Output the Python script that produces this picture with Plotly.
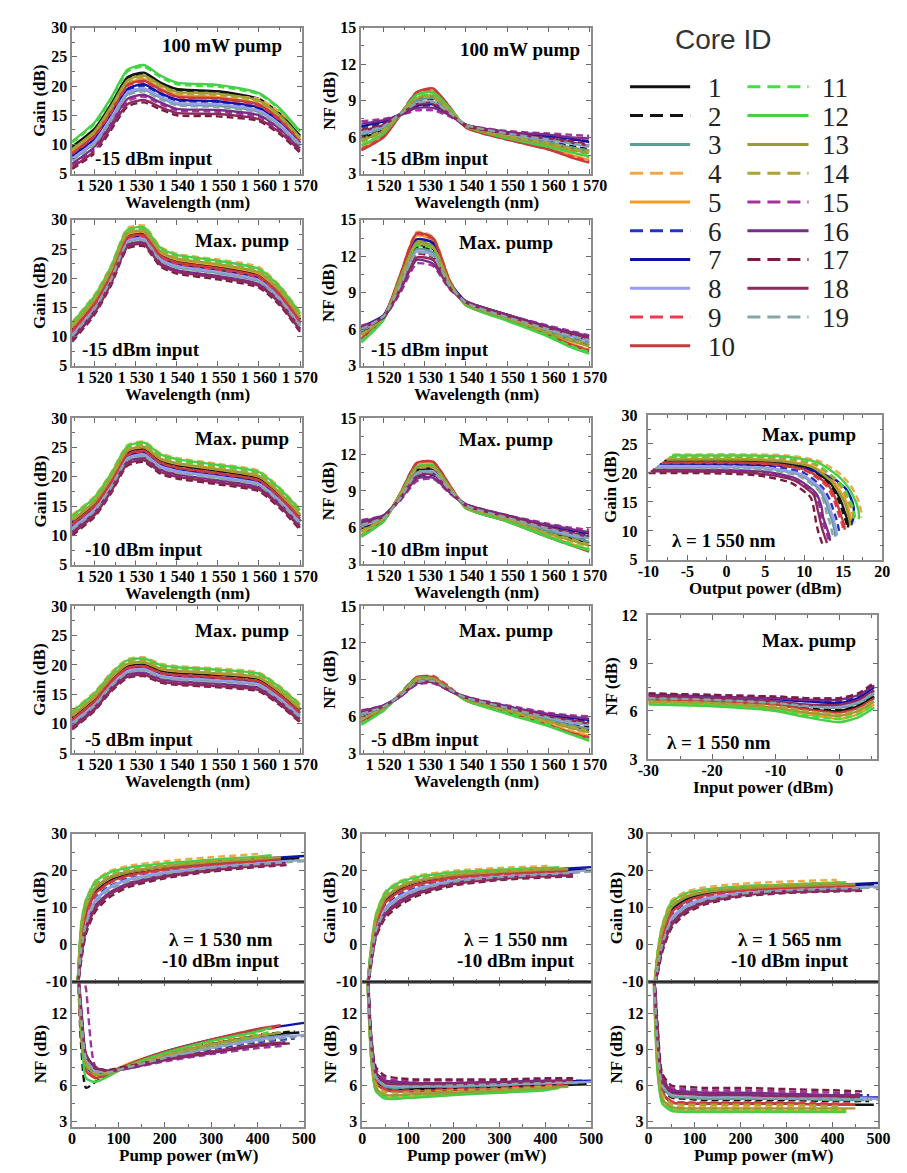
import plotly.graph_objects as go

W, H = 907, 1173
SERIF = "Liberation Serif"
SANS = "Liberation Sans"
FRAME = "#8c8c8c"
TICKC = "#6a6a6a"

CORES = list(range(1, 20))
COLORS = ['#111111', '#111111', '#5e9c98', '#f0a848', '#f39c2c', '#2436b8', '#0c14a6',
          '#9a9cf2', '#ee3a4c', '#c43c3c', '#3ee23e', '#46cf46', '#9a9a38', '#a8a436',
          '#a2329c', '#7a2c88', '#7a1c40', '#8c2a5c', '#88a6a6']
DASHED = [False, True, False, True, False, True, False, False, True, False,
          True, False, False, True, True, False, True, False, True]

# ---------------- wavelength sweeps ----------------
WL = [1514.5, 1520, 1524, 1528, 1532, 1536, 1540, 1550, 1560, 1565, 1570]
WL_TICKS = [1520, 1530, 1540, 1550, 1560, 1570]
WL_TEXT = ['1 520', '1 530', '1 540', '1 550', '1 560', '1 570']

# Gain, 100 mW pump, -15 dBm input (rows = core 1..19)
G_100_M15 = [
    [9.6, 12.7, 16.9, 21.5, 22.3, 20.6, 19.5, 19.1, 17.8, 15.3, 11.5],
    [9.3, 12.5, 16.6, 21.2, 22.0, 20.3, 19.2, 18.8, 17.6, 15.1, 11.3],
    [7.4, 10.3, 14.4, 18.6, 19.4, 18.0, 16.9, 16.6, 15.6, 13.3, 9.8],
    [8.9, 11.9, 16.1, 20.6, 21.4, 19.8, 18.6, 18.3, 17.8, 15.6, 12.4],
    [8.7, 11.8, 15.9, 20.4, 21.2, 19.6, 18.5, 18.1, 17.0, 14.5, 10.8],
    [7.9, 10.8, 14.9, 19.3, 20.0, 18.6, 17.5, 17.2, 16.1, 13.7, 10.2],
    [8.1, 11.0, 15.1, 19.5, 20.3, 18.8, 17.7, 17.4, 16.3, 13.9, 10.3],
    [7.6, 10.5, 14.6, 18.9, 19.6, 18.2, 17.1, 16.9, 15.8, 13.5, 10.0],
    [8.4, 11.4, 15.5, 20.0, 20.7, 19.2, 18.1, 17.8, 16.6, 14.2, 10.6],
    [8.5, 11.6, 15.7, 20.2, 20.9, 19.4, 18.2, 17.9, 16.8, 14.4, 10.7],
    [10.3, 13.5, 17.7, 22.5, 23.3, 21.5, 20.3, 19.9, 18.6, 16.0, 12.0],
    [10.5, 13.8, 18.0, 22.8, 23.6, 21.8, 20.6, 20.2, 18.8, 16.2, 12.2],
    [9.2, 12.3, 16.5, 21.0, 21.8, 20.2, 19.0, 18.7, 17.5, 15.0, 11.2],
    [9.0, 12.1, 16.2, 20.8, 21.6, 19.9, 18.8, 18.5, 17.3, 14.8, 11.0],
    [6.5, 9.3, 13.3, 17.4, 18.2, 16.9, 15.8, 15.6, 14.7, 12.5, 9.1],
    [6.7, 9.6, 13.6, 17.8, 18.5, 17.2, 16.1, 15.9, 15.0, 12.7, 9.3],
    [5.8, 8.5, 12.5, 16.5, 17.2, 16.0, 15.0, 14.8, 14.0, 11.8, 8.6],
    [6.1, 8.9, 12.9, 16.9, 17.6, 16.4, 15.4, 15.2, 14.3, 12.1, 8.9],
    [7.2, 10.1, 14.1, 18.4, 19.1, 17.7, 16.7, 16.4, 15.4, 13.1, 9.7],
]
NF_100_M15 = [
    [5.9, 6.6, 7.8, 9.1, 9.3, 8.2, 6.9, 6.1, 5.5, 5.1, 4.8],
    [6.1, 6.8, 7.8, 9.0, 9.1, 8.1, 6.9, 6.2, 5.7, 5.3, 5.0],
    [6.2, 6.8, 7.9, 9.0, 9.2, 8.1, 7.0, 6.2, 5.6, 5.2, 4.9],
    [5.4, 6.3, 7.8, 9.4, 9.6, 8.3, 6.8, 5.9, 5.3, 4.8, 4.3],
    [5.1, 6.2, 7.8, 9.6, 9.8, 8.4, 6.8, 5.9, 5.1, 4.6, 4.1],
    [6.8, 7.2, 7.8, 8.5, 8.6, 7.9, 7.0, 6.4, 6.0, 5.8, 5.7],
    [6.9, 7.3, 7.9, 8.6, 8.7, 7.9, 7.0, 6.4, 6.1, 5.9, 5.6],
    [6.3, 6.9, 7.8, 8.8, 8.9, 8.0, 6.9, 6.2, 5.8, 5.5, 5.2],
    [5.0, 6.1, 7.9, 9.7, 9.9, 8.5, 6.8, 5.8, 5.0, 4.5, 4.0],
    [4.9, 6.0, 7.8, 9.7, 10.0, 8.5, 6.8, 5.8, 5.0, 4.4, 3.9],
    [5.6, 6.5, 7.8, 9.3, 9.5, 8.3, 6.9, 6.0, 5.4, 4.9, 4.6],
    [5.3, 6.3, 7.9, 9.5, 9.7, 8.4, 6.9, 5.9, 5.2, 4.8, 4.4],
    [5.7, 6.5, 7.9, 9.2, 9.4, 8.2, 6.9, 6.0, 5.4, 5.0, 4.7],
    [5.8, 6.6, 7.9, 9.2, 9.3, 8.2, 7.0, 6.1, 5.5, 5.1, 4.8],
    [7.3, 7.5, 7.8, 8.2, 8.2, 7.7, 7.0, 6.5, 6.3, 6.2, 6.1],
    [7.1, 7.4, 7.8, 8.4, 8.4, 7.8, 7.0, 6.4, 6.2, 6.0, 5.9],
    [6.6, 7.1, 7.8, 8.7, 8.7, 7.9, 6.9, 6.3, 5.9, 5.7, 5.4],
    [6.5, 7.0, 7.9, 8.7, 8.8, 7.9, 7.0, 6.3, 5.9, 5.6, 5.3],
    [6.4, 6.9, 7.9, 8.8, 8.9, 8.0, 7.0, 6.3, 5.8, 5.5, 5.3],
]
G_MAX_M15 = [
    [11.3, 16.0, 21.0, 27.3, 27.7, 24.2, 23.0, 22.0, 20.6, 17.6, 13.0],
    [11.2, 15.9, 20.9, 27.2, 27.6, 24.1, 22.9, 21.9, 20.5, 17.5, 12.9],
    [10.2, 14.9, 19.9, 26.2, 26.6, 23.1, 21.9, 20.9, 19.5, 16.5, 11.9],
    [12.5, 17.2, 22.2, 28.6, 29.0, 25.4, 24.2, 23.2, 21.9, 18.8, 14.2],
    [11.5, 16.2, 21.2, 27.5, 27.9, 24.4, 23.2, 22.2, 20.8, 17.8, 13.2],
    [10.5, 15.2, 20.2, 26.5, 26.9, 23.4, 22.2, 21.2, 19.8, 16.8, 12.2],
    [10.7, 15.4, 20.4, 26.7, 27.1, 23.6, 22.4, 21.4, 20.0, 17.0, 12.4],
    [10.4, 15.1, 20.1, 26.4, 26.8, 23.3, 22.1, 21.1, 19.7, 16.7, 12.1],
    [10.8, 15.5, 20.5, 26.8, 27.2, 23.7, 22.5, 21.5, 20.1, 17.1, 12.5],
    [11.0, 15.7, 20.7, 27.0, 27.4, 23.9, 22.7, 21.7, 20.3, 17.3, 12.7],
    [12.1, 16.8, 21.8, 28.1, 28.5, 25.0, 23.8, 22.8, 21.4, 18.4, 13.8],
    [12.3, 17.0, 22.0, 28.3, 28.7, 25.2, 24.0, 23.0, 21.6, 18.6, 14.0],
    [11.7, 16.4, 21.4, 27.7, 28.1, 24.6, 23.4, 22.4, 21.0, 18.0, 13.4],
    [11.8, 16.5, 21.5, 27.8, 28.2, 24.7, 23.5, 22.5, 21.1, 18.1, 13.5],
    [9.6, 14.3, 19.3, 25.6, 26.0, 22.5, 21.3, 20.3, 18.9, 15.9, 11.3],
    [9.7, 14.4, 19.4, 25.7, 26.1, 22.6, 21.4, 20.4, 19.0, 16.0, 11.4],
    [9.1, 13.8, 18.8, 25.1, 25.5, 22.0, 20.8, 19.8, 18.4, 15.4, 10.8],
    [9.4, 14.1, 19.1, 25.4, 25.8, 22.3, 21.1, 20.1, 18.7, 15.7, 11.1],
    [10.1, 14.8, 19.8, 26.1, 26.5, 23.0, 21.8, 20.8, 19.4, 16.4, 11.8],
]
NF_MAX_M15 = [
    [5.6, 7.0, 9.9, 12.9, 12.6, 9.7, 8.1, 7.0, 5.8, 5.2, 4.7],
    [5.8, 7.0, 9.8, 12.7, 12.4, 9.7, 8.2, 7.0, 5.9, 5.4, 4.9],
    [5.9, 7.1, 9.8, 12.6, 12.3, 9.6, 8.2, 7.0, 5.9, 5.3, 4.8],
    [5.2, 7.0, 10.5, 14.0, 13.6, 10.1, 8.0, 6.8, 5.5, 4.8, 4.2],
    [5.3, 7.0, 10.4, 13.7, 13.3, 9.9, 8.0, 6.8, 5.6, 4.9, 4.3],
    [6.1, 7.1, 10.0, 13.2, 12.9, 9.8, 8.3, 7.2, 6.2, 5.7, 5.3],
    [6.2, 7.2, 10.2, 13.4, 13.1, 9.9, 8.3, 7.2, 6.2, 5.8, 5.4],
    [5.9, 7.0, 9.6, 12.4, 12.1, 9.6, 8.2, 7.0, 6.0, 5.5, 5.0],
    [5.2, 6.9, 10.4, 13.8, 13.4, 10.0, 8.0, 6.8, 5.5, 4.8, 4.3],
    [5.2, 7.0, 10.5, 13.9, 13.5, 10.0, 8.0, 6.8, 5.5, 4.8, 4.2],
    [5.0, 6.9, 10.1, 12.9, 12.6, 9.8, 8.0, 6.8, 5.5, 4.7, 4.1],
    [4.9, 6.8, 10.2, 13.0, 12.7, 9.8, 8.0, 6.7, 5.4, 4.6, 4.0],
    [5.5, 7.0, 10.1, 13.2, 12.8, 9.8, 8.1, 6.9, 5.7, 5.1, 4.6],
    [5.6, 7.0, 10.0, 13.0, 12.7, 9.8, 8.1, 7.0, 5.8, 5.2, 4.8],
    [6.3, 7.0, 9.0, 11.4, 11.2, 9.3, 8.3, 7.2, 6.3, 5.9, 5.5],
    [6.2, 7.0, 9.2, 11.7, 11.4, 9.4, 8.3, 7.2, 6.2, 5.8, 5.4],
    [6.0, 7.0, 9.5, 12.2, 11.9, 9.5, 8.2, 7.1, 6.1, 5.6, 5.1],
    [6.1, 7.0, 9.3, 11.9, 11.7, 9.4, 8.2, 7.1, 6.1, 5.7, 5.2],
    [6.0, 7.1, 9.6, 12.3, 12.0, 9.6, 8.2, 7.0, 6.0, 5.5, 5.1],
]
G_MAX_M10 = [
    [12.3, 15.5, 19.5, 24.2, 24.8, 22.8, 22.0, 21.0, 19.8, 17.0, 13.3],
    [12.1, 15.3, 19.3, 24.0, 24.6, 22.6, 21.8, 20.8, 19.6, 16.8, 13.1],
    [11.2, 14.4, 18.4, 23.1, 23.7, 21.7, 20.9, 19.9, 18.7, 15.9, 12.2],
    [13.5, 16.7, 20.7, 25.4, 26.0, 24.0, 23.2, 22.2, 21.0, 18.2, 14.5],
    [12.5, 15.7, 19.7, 24.4, 25.0, 23.0, 22.2, 21.2, 20.0, 17.2, 13.5],
    [11.5, 14.7, 18.7, 23.4, 24.0, 22.0, 21.2, 20.2, 19.0, 16.2, 12.5],
    [11.6, 14.8, 18.8, 23.5, 24.1, 22.1, 21.3, 20.3, 19.1, 16.3, 12.6],
    [11.3, 14.5, 18.5, 23.2, 23.8, 21.8, 21.0, 20.0, 18.8, 16.0, 12.3],
    [11.8, 15.0, 19.0, 23.7, 24.3, 22.3, 21.5, 20.5, 19.3, 16.5, 12.8],
    [11.9, 15.1, 19.1, 23.8, 24.4, 22.4, 21.6, 20.6, 19.4, 16.6, 12.9],
    [13.1, 16.3, 20.3, 25.0, 25.6, 23.6, 22.8, 21.8, 20.6, 17.8, 14.1],
    [13.3, 16.5, 20.5, 25.2, 25.8, 23.8, 23.0, 22.0, 20.8, 18.0, 14.3],
    [12.6, 15.8, 19.8, 24.5, 25.1, 23.1, 22.3, 21.3, 20.1, 17.3, 13.6],
    [12.8, 16.0, 20.0, 24.7, 25.3, 23.3, 22.5, 21.5, 20.3, 17.5, 13.8],
    [10.5, 13.7, 17.7, 22.4, 23.0, 21.0, 20.2, 19.2, 18.0, 15.2, 11.5],
    [10.7, 13.9, 17.9, 22.6, 23.2, 21.2, 20.4, 19.4, 18.2, 15.4, 11.7],
    [10.0, 13.2, 17.2, 21.9, 22.5, 20.5, 19.7, 18.7, 17.5, 14.7, 11.0],
    [10.3, 13.5, 17.5, 22.2, 22.8, 20.8, 20.0, 19.0, 17.8, 15.0, 11.3],
    [11.0, 14.2, 18.2, 22.9, 23.5, 21.5, 20.7, 19.7, 18.5, 15.7, 12.0],
]
NF_MAX_M10 = [
    [5.8, 6.8, 8.6, 10.7, 10.8, 9.2, 7.7, 6.7, 5.6, 5.2, 4.7],
    [6.0, 6.8, 8.5, 10.6, 10.7, 9.2, 7.8, 6.8, 5.8, 5.3, 4.9],
    [6.1, 6.9, 8.5, 10.5, 10.6, 9.1, 7.8, 6.8, 5.7, 5.3, 4.8],
    [5.6, 6.7, 8.7, 11.0, 11.1, 9.4, 7.7, 6.6, 5.4, 4.9, 4.4],
    [5.4, 6.6, 8.7, 11.2, 11.3, 9.4, 7.6, 6.6, 5.3, 4.7, 4.2],
    [6.3, 6.9, 8.3, 10.1, 10.3, 8.9, 7.8, 6.9, 6.1, 5.7, 5.4],
    [6.4, 7.0, 8.4, 10.2, 10.4, 9.0, 7.9, 6.9, 6.1, 5.8, 5.5],
    [6.1, 6.8, 8.4, 10.4, 10.6, 9.1, 7.8, 6.8, 5.9, 5.4, 5.1],
    [5.3, 6.5, 8.8, 11.3, 11.4, 9.5, 7.6, 6.5, 5.2, 4.6, 4.1],
    [5.3, 6.6, 8.8, 11.3, 11.4, 9.5, 7.6, 6.5, 5.2, 4.6, 4.0],
    [5.3, 6.6, 8.7, 10.9, 11.0, 9.3, 7.6, 6.5, 5.3, 4.7, 4.2],
    [5.2, 6.5, 8.7, 11.0, 11.1, 9.3, 7.6, 6.5, 5.2, 4.6, 4.1],
    [5.7, 6.7, 8.6, 10.9, 11.0, 9.3, 7.7, 6.7, 5.5, 5.0, 4.5],
    [5.7, 6.8, 8.7, 10.8, 10.9, 9.3, 7.7, 6.7, 5.5, 5.1, 4.6],
    [6.6, 7.0, 8.2, 9.8, 10.0, 8.8, 7.9, 7.0, 6.3, 6.0, 5.8],
    [6.5, 7.0, 8.3, 10.0, 10.1, 8.9, 7.9, 7.0, 6.2, 5.9, 5.6],
    [6.2, 6.9, 8.4, 10.3, 10.4, 9.0, 7.8, 6.9, 6.0, 5.6, 5.3],
    [6.3, 6.9, 8.4, 10.2, 10.4, 9.0, 7.8, 6.9, 6.0, 5.6, 5.2],
    [6.2, 6.8, 8.4, 10.4, 10.5, 9.1, 7.8, 6.8, 5.9, 5.5, 5.1],
]
G_MAX_M5 = [
    [11.1, 14.3, 17.6, 19.9, 20.2, 19.1, 18.7, 18.3, 17.6, 15.3, 12.3],
    [11.0, 14.2, 17.5, 19.8, 20.1, 19.0, 18.6, 18.2, 17.5, 15.2, 12.2],
    [10.1, 13.3, 16.6, 18.9, 19.2, 18.1, 17.7, 17.3, 16.6, 14.3, 11.3],
    [12.2, 15.4, 18.7, 21.0, 21.3, 20.2, 19.8, 19.4, 18.7, 16.4, 13.4],
    [11.3, 14.5, 17.8, 20.1, 20.4, 19.3, 18.9, 18.5, 17.8, 15.5, 12.5],
    [10.4, 13.6, 16.9, 19.2, 19.5, 18.4, 18.0, 17.6, 16.9, 14.6, 11.6],
    [10.5, 13.7, 17.0, 19.3, 19.6, 18.5, 18.1, 17.7, 17.0, 14.7, 11.7],
    [10.2, 13.4, 16.7, 19.0, 19.3, 18.2, 17.8, 17.4, 16.7, 14.4, 11.4],
    [10.6, 13.8, 17.1, 19.4, 19.7, 18.6, 18.2, 17.8, 17.1, 14.8, 11.8],
    [10.7, 13.9, 17.2, 19.5, 19.8, 18.7, 18.3, 17.9, 17.2, 14.9, 11.9],
    [11.8, 15.0, 18.3, 20.6, 20.9, 19.8, 19.4, 19.0, 18.3, 16.0, 13.0],
    [12.0, 15.2, 18.5, 20.8, 21.1, 20.0, 19.6, 19.2, 18.5, 16.2, 13.2],
    [11.4, 14.6, 17.9, 20.2, 20.5, 19.4, 19.0, 18.6, 17.9, 15.6, 12.6],
    [11.6, 14.8, 18.1, 20.4, 20.7, 19.6, 19.2, 18.8, 18.1, 15.8, 12.8],
    [9.5, 12.7, 16.0, 18.3, 18.6, 17.5, 17.1, 16.7, 16.0, 13.7, 10.7],
    [9.6, 12.8, 16.1, 18.4, 18.7, 17.6, 17.2, 16.8, 16.1, 13.8, 10.8],
    [9.0, 12.2, 15.5, 17.8, 18.1, 17.0, 16.6, 16.2, 15.5, 13.2, 10.2],
    [9.2, 12.4, 15.7, 18.0, 18.3, 17.2, 16.8, 16.4, 15.7, 13.4, 10.4],
    [9.9, 13.1, 16.4, 18.7, 19.0, 17.9, 17.5, 17.1, 16.4, 14.1, 11.1],
]
NF_MAX_M5 = [
    [5.9, 6.7, 7.7, 9.0, 9.0, 8.2, 7.4, 6.5, 5.7, 5.3, 4.9],
    [6.0, 6.8, 7.7, 8.9, 9.0, 8.2, 7.5, 6.6, 5.8, 5.4, 5.1],
    [6.1, 6.8, 7.8, 8.9, 9.0, 8.2, 7.4, 6.6, 5.8, 5.3, 5.0],
    [5.7, 6.7, 7.8, 9.1, 9.1, 8.3, 7.4, 6.4, 5.5, 5.0, 4.6],
    [5.6, 6.6, 7.8, 9.1, 9.2, 8.3, 7.3, 6.4, 5.4, 4.8, 4.4],
    [6.3, 6.8, 7.6, 8.7, 8.8, 8.1, 7.5, 6.8, 6.1, 5.8, 5.6],
    [6.4, 6.9, 7.7, 8.8, 8.9, 8.1, 7.5, 6.8, 6.1, 5.9, 5.7],
    [6.1, 6.8, 7.7, 8.8, 8.9, 8.2, 7.5, 6.7, 5.9, 5.5, 5.3],
    [5.5, 6.5, 7.9, 9.2, 9.3, 8.4, 7.3, 6.3, 5.3, 4.7, 4.3],
    [5.5, 6.6, 7.8, 9.2, 9.2, 8.3, 7.3, 6.3, 5.3, 4.7, 4.2],
    [5.4, 6.5, 7.8, 9.0, 9.1, 8.2, 7.3, 6.3, 5.3, 4.6, 4.1],
    [5.3, 6.5, 7.8, 9.1, 9.1, 8.2, 7.3, 6.2, 5.2, 4.6, 4.0],
    [5.8, 6.7, 7.7, 9.0, 9.1, 8.2, 7.4, 6.5, 5.6, 5.1, 4.7],
    [5.8, 6.7, 7.8, 9.0, 9.0, 8.2, 7.4, 6.5, 5.6, 5.2, 4.8],
    [6.5, 6.9, 7.6, 8.6, 8.7, 8.1, 7.6, 6.9, 6.3, 6.1, 6.0],
    [6.4, 6.9, 7.6, 8.7, 8.8, 8.1, 7.6, 6.8, 6.2, 6.0, 5.8],
    [6.2, 6.8, 7.7, 8.8, 8.9, 8.2, 7.5, 6.7, 6.0, 5.7, 5.5],
    [6.3, 6.8, 7.7, 8.7, 8.8, 8.1, 7.5, 6.7, 6.0, 5.7, 5.4],
    [6.2, 6.8, 7.7, 8.8, 8.9, 8.2, 7.5, 6.7, 5.9, 5.6, 5.3],
]

# ---------------- gain vs output power (lambda = 1550 nm) ----------------
OUT_PIN = [-30, -20, -15, -10, -5, -2, 0, 2, 4, 5]
OUT_GAIN = [
    [22.1, 22.1, 21.8, 20.8, 18.3, 16.3, 14.8, 13.2, 11.6, 10.6],
    [22.0, 22.0, 21.7, 20.7, 18.2, 16.1, 14.6, 13.0, 11.4, 10.5],
    [21.1, 21.0, 20.7, 19.6, 17.0, 14.8, 13.2, 11.6, 9.9, 9.0],
    [23.2, 23.2, 23.0, 22.0, 19.7, 17.9, 16.5, 15.0, 13.3, 12.3],
    [22.4, 22.4, 22.1, 21.1, 18.7, 16.7, 15.3, 13.7, 12.0, 11.1],
    [21.4, 21.4, 21.1, 20.0, 17.4, 15.3, 13.7, 12.1, 10.4, 9.5],
    [21.5, 21.5, 21.3, 20.6, 18.9, 17.3, 15.9, 14.3, 12.3, 11.0],
    [21.2, 21.1, 20.8, 19.7, 17.2, 15.0, 13.4, 11.8, 10.1, 9.2],
    [21.7, 21.7, 21.4, 20.3, 17.8, 15.7, 14.1, 12.5, 10.9, 10.0],
    [21.8, 21.8, 21.5, 20.4, 18.0, 15.9, 14.3, 12.7, 11.1, 10.2],
    [22.7, 22.7, 22.5, 21.5, 19.0, 17.2, 15.7, 14.2, 12.5, 11.5],
    [23.0, 23.0, 22.8, 21.8, 19.4, 17.6, 16.2, 14.7, 13.0, 12.0],
    [22.3, 22.3, 22.0, 21.0, 18.5, 16.5, 15.1, 13.5, 11.8, 10.9],
    [22.6, 22.6, 22.4, 21.4, 18.9, 17.0, 15.5, 14.0, 12.3, 11.3],
    [20.5, 20.4, 20.1, 18.9, 16.3, 14.0, 12.2, 10.6, 9.0, 8.1],
    [20.6, 20.5, 20.2, 19.0, 16.5, 14.2, 12.4, 10.8, 9.2, 8.3],
    [20.0, 19.9, 19.5, 18.3, 15.8, 13.3, 11.5, 9.8, 8.2, 7.4],
    [20.3, 20.2, 19.8, 18.7, 16.2, 13.7, 12.0, 10.3, 8.7, 7.9],
    [20.9, 20.8, 20.5, 19.4, 16.9, 14.6, 12.9, 11.3, 9.6, 8.8],
]

# ---------------- NF vs input power (lambda = 1550 nm) ----------------
IN_PIN = [-30, -20, -10, -5, 0, 3, 5.5]
IN_NF = [
    [6.7, 6.6, 6.4, 6.1, 6.0, 6.3, 6.9],
    [6.8, 6.7, 6.5, 6.2, 6.1, 6.4, 7.0],
    [6.8, 6.7, 6.5, 6.3, 6.2, 6.5, 7.1],
    [6.5, 6.4, 6.2, 5.8, 5.6, 5.9, 6.5],
    [6.5, 6.4, 6.1, 5.8, 5.5, 5.8, 6.4],
    [7.0, 6.9, 6.8, 6.6, 6.6, 6.9, 7.6],
    [7.0, 6.9, 6.7, 6.6, 6.5, 6.8, 7.5],
    [6.9, 6.8, 6.6, 6.4, 6.3, 6.6, 7.2],
    [6.7, 6.6, 6.3, 6.0, 5.8, 6.1, 6.7],
    [6.7, 6.6, 6.4, 6.1, 5.9, 6.2, 6.8],
    [6.5, 6.4, 6.1, 5.7, 5.5, 5.8, 6.4],
    [6.4, 6.3, 6.0, 5.6, 5.3, 5.6, 6.2],
    [6.6, 6.5, 6.2, 5.9, 5.7, 6.0, 6.6],
    [6.6, 6.5, 6.3, 6.0, 5.8, 6.1, 6.7],
    [7.1, 7.0, 6.9, 6.8, 6.8, 7.1, 7.8],
    [7.0, 6.9, 6.8, 6.7, 6.7, 7.0, 7.6],
    [7.1, 7.0, 6.9, 6.8, 6.8, 7.1, 7.7],
    [6.9, 6.8, 6.6, 6.4, 6.4, 6.7, 7.3],
    [6.8, 6.7, 6.5, 6.3, 6.2, 6.5, 7.2],
]

# ---------------- pump power sweeps (-10 dBm input) ----------------
PUMP = [12, 20, 30, 50, 80, 120, 200, 300, 400]
PUMP_END = [490, 480, 470, 410, 430, 480, 500, 500, 440, 450,
            430, 430, 450, 420, 460, 460, 470, 460, 500]

PG_1530 = [
    [-10.6, 3.0, 9.3, 14.6, 17.5, 19.2, 20.8, 22.0, 23.0, 23.4],
    [-10.7, 2.6, 9.0, 14.3, 17.3, 19.0, 20.7, 21.9, 22.8, 23.2],
    [-11.3, -0.4, 6.3, 11.9, 15.3, 17.5, 19.5, 21.0, 22.0, 22.5],
    [-10.0, 6.2, 12.3, 17.3, 19.9, 21.3, 22.6, 23.7, 24.6, 25.0],
    [-10.5, 3.6, 9.9, 15.1, 17.9, 19.5, 21.0, 22.3, 23.1, 23.6],
    [-11.1, 0.6, 7.1, 12.6, 15.8, 17.9, 19.8, 21.2, 22.3, 22.8],
    [-10.4, 4.0, 10.2, 15.4, 18.2, 19.7, 21.2, 22.4, 23.2, 24.0],
    [-11.2, 0.0, 6.6, 12.2, 15.5, 17.6, 19.6, 21.1, 22.1, 22.9],
    [-10.9, 1.7, 8.1, 13.5, 16.6, 18.5, 20.3, 21.6, 22.6, 23.0],
    [-10.8, 2.0, 8.4, 13.8, 16.8, 18.7, 20.4, 21.7, 22.7, 23.2],
    [-10.2, 5.0, 11.1, 16.2, 18.8, 20.3, 21.6, 22.7, 23.5, 23.9],
    [-10.0, 6.0, 12.0, 17.0, 19.5, 20.8, 22.0, 23.0, 23.8, 24.2],
    [-10.4, 4.0, 10.2, 15.4, 18.2, 19.7, 21.2, 22.4, 23.2, 23.7],
    [-10.3, 4.7, 10.8, 16.0, 18.6, 20.1, 21.5, 22.6, 23.6, 24.0],
    [-11.7, -2.4, 4.4, 10.3, 13.8, 16.3, 18.6, 20.3, 21.4, 21.9],
    [-11.6, -2.0, 4.8, 10.6, 14.1, 16.6, 18.8, 20.4, 21.6, 22.1],
    [-12.0, -4.0, 3.0, 9.0, 12.8, 15.5, 18.0, 19.8, 21.0, 21.6],
    [-11.8, -3.0, 3.9, 9.8, 13.5, 16.0, 18.4, 20.1, 21.3, 21.9],
    [-11.4, -1.0, 5.7, 11.4, 14.8, 17.1, 19.2, 20.8, 21.8, 22.6],
]
PN_1530 = [
    [16, 11.1, 7.9, 7.0, 7.2, 7.6, 8.5, 9.4, 10.1, 10.4],
    [16, 9.0, 5.8, 6.3, 6.9, 7.6, 8.6, 9.5, 10.2, 10.5],
    [16, 11.3, 8.0, 7.1, 7.1, 7.6, 8.4, 9.2, 9.9, 10.2],
    [16, 10.5, 7.5, 6.8, 7.0, 7.6, 8.6, 9.6, 10.4, 10.6],
    [16, 10.2, 7.3, 6.7, 7.1, 7.8, 8.8, 9.8, 10.6, 10.8],
    [16, 11.8, 8.3, 7.3, 7.1, 7.5, 8.2, 9.0, 9.6, 9.9],
    [16, 10.8, 7.6, 6.9, 7.1, 7.7, 8.8, 9.8, 10.6, 11.2],
    [16, 11.6, 8.2, 7.2, 7.2, 7.5, 8.3, 9.1, 9.8, 10.2],
    [16, 10.3, 7.4, 6.7, 7.0, 7.7, 8.7, 9.7, 10.5, 10.8],
    [16, 10.0, 7.2, 6.6, 7.0, 7.7, 8.8, 9.8, 10.7, 11.0],
    [16, 10.8, 7.7, 6.9, 7.1, 7.6, 8.6, 9.4, 10.2, 10.5],
    [16, 10.4, 6.6, 6.3, 6.8, 7.6, 8.7, 9.7, 10.5, 10.8],
    [16, 10.9, 7.8, 6.9, 7.0, 7.5, 8.5, 9.4, 10.1, 10.4],
    [16, 11.0, 7.8, 7.0, 7.1, 7.6, 8.5, 9.3, 10.1, 10.3],
    [16, 15.5, 14.0, 7.6, 7.2, 7.4, 8.0, 8.6, 9.1, 9.3],
    [16, 12.3, 8.6, 7.5, 7.2, 7.4, 8.1, 8.7, 9.3, 9.5],
    [16, 12.1, 8.4, 7.4, 7.3, 7.6, 8.2, 8.8, 9.3, 9.5],
    [16, 12.0, 8.5, 7.4, 7.2, 7.5, 8.2, 8.8, 9.4, 9.6],
    [16, 11.5, 8.2, 7.2, 7.1, 7.5, 8.3, 9.1, 9.7, 10.1],
]
PG_1550 = [
    [-10.6, -1.5, 6.2, 12.0, 14.9, 16.8, 18.5, 19.5, 20.0, 20.3],
    [-10.7, -1.8, 5.9, 11.7, 14.7, 16.6, 18.4, 19.4, 19.9, 20.2],
    [-11.3, -3.3, 4.1, 9.6, 12.8, 15.0, 17.3, 18.5, 19.1, 19.5],
    [-10.0, 0.2, 8.3, 14.3, 17.1, 18.7, 20.0, 20.8, 21.3, 21.5],
    [-10.5, -1.2, 6.5, 12.4, 15.3, 17.1, 18.7, 19.6, 20.2, 20.4],
    [-11.1, -2.8, 4.7, 10.3, 13.4, 15.5, 17.6, 18.8, 19.4, 19.9],
    [-10.4, -1.0, 6.8, 12.6, 15.5, 17.3, 18.9, 19.7, 20.3, 21.0],
    [-11.2, -3.0, 4.4, 9.9, 13.0, 15.2, 17.4, 18.6, 19.2, 20.2],
    [-10.9, -2.2, 5.3, 11.0, 14.1, 16.1, 18.0, 19.0, 19.6, 19.9],
    [-10.8, -2.0, 5.6, 11.3, 14.3, 16.3, 18.2, 19.2, 19.8, 20.0],
    [-10.2, -0.5, 7.4, 13.3, 16.2, 17.8, 19.2, 20.0, 20.5, 20.8],
    [-10.0, 0.0, 8.0, 14.0, 16.8, 18.3, 19.6, 20.3, 20.8, 21.0],
    [-10.4, -1.0, 6.8, 12.6, 15.5, 17.3, 18.9, 19.7, 20.3, 20.5],
    [-10.3, -0.7, 7.2, 13.0, 16.0, 17.6, 19.1, 19.9, 20.6, 20.9],
    [-11.7, -4.3, 2.9, 8.3, 11.5, 14.0, 16.6, 18.0, 18.6, 18.9],
    [-11.6, -4.0, 3.2, 8.6, 11.8, 14.2, 16.7, 18.1, 18.7, 19.0],
    [-12.0, -5.0, 2.0, 7.2, 10.5, 13.2, 16.0, 17.5, 18.2, 18.5],
    [-11.8, -4.5, 2.6, 7.9, 11.1, 13.7, 16.4, 17.8, 18.5, 18.8],
    [-11.4, -3.5, 3.8, 9.2, 12.4, 14.7, 17.1, 18.3, 19.0, 19.8],
]
PN_1550 = [
    [14.8, 8.9, 6.4, 5.8, 5.7, 5.7, 5.8, 5.9, 6.0, 6.1],
    [15.0, 9.0, 6.5, 5.9, 5.8, 5.8, 5.9, 6.0, 6.1, 6.2],
    [15.1, 9.1, 6.6, 5.9, 5.8, 5.9, 5.9, 6.0, 6.2, 6.2],
    [14.4, 8.4, 5.9, 5.3, 5.2, 5.3, 5.5, 5.6, 5.8, 6.0],
    [14.1, 8.1, 5.6, 5.0, 5.0, 5.1, 5.3, 5.5, 5.7, 5.8],
    [15.6, 9.7, 7.0, 6.3, 6.2, 6.2, 6.2, 6.3, 6.4, 6.4],
    [15.5, 9.5, 6.9, 6.2, 6.1, 6.1, 6.2, 6.2, 6.3, 6.4],
    [15.3, 9.3, 6.8, 6.1, 6.0, 6.0, 6.0, 6.1, 6.2, 6.3],
    [14.8, 8.8, 6.3, 5.7, 5.6, 5.6, 5.7, 5.8, 6.0, 6.1],
    [14.7, 8.7, 6.2, 5.6, 5.5, 5.5, 5.6, 5.7, 5.9, 6.0],
    [14.2, 8.2, 5.7, 5.1, 5.1, 5.2, 5.3, 5.5, 5.7, 5.9],
    [14.0, 8.0, 5.5, 4.9, 4.9, 5.0, 5.2, 5.4, 5.6, 5.8],
    [14.4, 8.3, 5.8, 5.2, 5.2, 5.3, 5.4, 5.6, 5.8, 5.9],
    [14.6, 8.6, 6.1, 5.5, 5.4, 5.5, 5.6, 5.7, 5.9, 6.0],
    [15.8, 9.8, 7.3, 6.6, 6.4, 6.4, 6.4, 6.4, 6.5, 6.5],
    [15.6, 9.6, 7.1, 6.4, 6.3, 6.2, 6.2, 6.3, 6.4, 6.4],
    [16.0, 10.0, 7.5, 6.8, 6.6, 6.5, 6.5, 6.5, 6.6, 6.6],
    [15.4, 9.4, 6.9, 6.2, 6.1, 6.1, 6.1, 6.2, 6.3, 6.4],
    [15.2, 9.2, 6.7, 6.0, 5.9, 5.9, 6.0, 6.1, 6.2, 6.3],
]
PG_1565 = [
    [-12.6, -3.8, 2.9, 9.4, 12.2, 13.7, 15.0, 15.6, 16.0, 16.2],
    [-12.7, -4.1, 2.6, 9.1, 12.0, 13.5, 14.9, 15.5, 15.9, 16.1],
    [-13.3, -5.9, 0.5, 7.0, 10.3, 12.2, 14.0, 14.8, 15.2, 15.4],
    [-11.8, -1.6, 5.4, 11.9, 14.3, 15.5, 16.5, 17.1, 17.5, 17.5],
    [-12.3, -2.9, 3.9, 10.4, 13.0, 14.3, 15.3, 15.9, 16.3, 16.5],
    [-13.1, -5.3, 1.2, 7.7, 10.8, 12.7, 14.3, 15.1, 15.5, 15.8],
    [-12.4, -3.2, 3.6, 10.1, 12.7, 14.1, 15.2, 15.8, 16.2, 16.7],
    [-13.2, -5.6, 0.8, 7.3, 10.5, 12.4, 14.1, 14.9, 15.3, 15.8],
    [-12.9, -4.7, 1.9, 8.4, 11.4, 13.1, 14.6, 15.3, 15.7, 15.9],
    [-12.8, -4.4, 2.2, 8.7, 11.6, 13.3, 14.7, 15.4, 15.8, 16.0],
    [-12.2, -2.6, 4.3, 10.8, 13.3, 14.5, 15.5, 16.1, 16.5, 16.7],
    [-12.0, -2.0, 5.0, 11.5, 13.8, 14.9, 15.8, 16.3, 16.7, 16.9],
    [-12.4, -3.2, 3.6, 10.1, 12.7, 14.1, 15.2, 15.8, 16.2, 16.4],
    [-12.1, -2.4, 4.6, 11.1, 13.5, 14.7, 15.7, 16.3, 16.8, 17.0],
    [-13.7, -7.1, -0.9, 5.6, 9.2, 11.4, 13.5, 14.4, 14.8, 15.0],
    [-13.6, -6.8, -0.6, 5.9, 9.4, 11.6, 13.6, 14.5, 14.9, 15.1],
    [-14.0, -8.0, -2.0, 4.5, 8.3, 10.8, 13.0, 14.0, 14.4, 14.6],
    [-13.8, -7.4, -1.3, 5.2, 8.9, 11.2, 13.3, 14.2, 14.6, 14.8],
    [-13.4, -6.2, 0.1, 6.6, 10.0, 12.0, 13.8, 14.7, 15.1, 15.5],
]
PN_1565 = [
    [14.8, 8.5, 5.4, 4.6, 4.5, 4.5, 4.5, 4.5, 4.4, 4.4],
    [15.0, 9.0, 5.8, 5.0, 4.9, 4.8, 4.8, 4.8, 4.7, 4.7],
    [15.1, 9.1, 5.9, 5.1, 5.0, 4.9, 4.9, 4.9, 4.8, 4.8],
    [14.4, 7.8, 5.0, 4.3, 4.2, 4.2, 4.2, 4.2, 4.2, 4.1],
    [14.1, 7.2, 4.6, 4.0, 3.9, 3.9, 3.9, 3.9, 3.9, 3.9],
    [15.6, 10.3, 6.6, 5.7, 5.5, 5.4, 5.4, 5.3, 5.2, 5.2],
    [15.5, 10.0, 6.4, 5.5, 5.3, 5.2, 5.2, 5.1, 5.0, 5.0],
    [15.3, 9.6, 6.1, 5.3, 5.2, 5.1, 5.1, 5.0, 5.0, 4.9],
    [14.8, 8.6, 5.5, 4.7, 4.6, 4.6, 4.6, 4.6, 4.5, 4.5],
    [14.7, 8.4, 5.4, 4.6, 4.5, 4.5, 4.5, 4.5, 4.4, 4.4],
    [14.2, 7.4, 4.8, 4.1, 4.0, 4.0, 4.0, 4.0, 4.0, 4.0],
    [14.0, 7.0, 4.5, 3.9, 3.8, 3.8, 3.8, 3.8, 3.8, 3.8],
    [14.4, 7.7, 4.9, 4.2, 4.1, 4.1, 4.1, 4.1, 4.1, 4.1],
    [14.6, 8.2, 5.3, 4.5, 4.4, 4.4, 4.4, 4.4, 4.3, 4.3],
    [15.8, 10.6, 6.8, 5.8, 5.7, 5.6, 5.6, 5.5, 5.4, 5.3],
    [15.6, 10.2, 6.5, 5.6, 5.5, 5.4, 5.4, 5.3, 5.2, 5.2],
    [16.0, 11.0, 7.0, 6.0, 5.9, 5.8, 5.8, 5.7, 5.6, 5.5],
    [15.4, 9.8, 6.3, 5.4, 5.3, 5.2, 5.2, 5.1, 5.1, 5.0],
    [15.2, 9.4, 6.0, 5.2, 5.1, 5.0, 5.0, 4.9, 4.9, 4.8],
]

# ---------------- figure ----------------
fig = go.Figure()


def fx(p):
    return p / W


def fy(p):
    return 1 - p / H


def minor_vals(lo, hi, step):
    vals, v = [], lo
    while v <= hi + 1e-9:
        vals.append(round(v, 4))
        v += step
    return vals


def bold(texts):
    return ['<b>' + t + '</b>' for t in texts]


AX = {
    'wl': dict(range=[1514.5, 1570.5], tickvals=WL_TICKS, ticktext=WL_TEXT,
               minor=minor_vals(1515, 1570, 10)),
    'gain': dict(range=[5, 30], tickvals=[5, 10, 15, 20, 25, 30],
                 minor=minor_vals(7.5, 27.5, 5)),
    'nf': dict(range=[3, 15], tickvals=[3, 6, 9, 12, 15],
               minor=minor_vals(4.5, 13.5, 3)),
    'out': dict(range=[-10, 20], tickvals=[-10, -5, 0, 5, 10, 15, 20],
                minor=minor_vals(-7.5, 17.5, 5)),
    'inx': dict(range=[-30, 6], tickvals=[-30, -20, -10, 0],
                minor=minor_vals(-25, 5, 10)),
    'iny': dict(range=[3, 12], tickvals=[3, 6, 9, 12],
                minor=minor_vals(4.5, 10.5, 3)),
    'pump': dict(range=[0, 500], tickvals=[0, 100, 200, 300, 400, 500],
                 minor=minor_vals(50, 450, 100)),
    'pg': dict(range=[-10, 30], tickvals=[-10, 0, 10, 20, 30],
               minor=minor_vals(-5, 25, 10)),
    'pn': dict(range=[2.59, 14.62], tickvals=[3, 6, 9, 12],
               minor=minor_vals(4.5, 13.5, 3)),
}

TICKFONT = dict(family=SERIF, size=16, color='black')


def axis_dict(spec, domain, anchor, labels, standoff):
    texts = spec.get('ticktext', [str(v) for v in spec['tickvals']])
    return dict(
        domain=domain, anchor=anchor, range=spec['range'],
        tickmode='array', tickvals=spec['tickvals'], ticktext=bold(texts),
        showticklabels=labels, tickfont=TICKFONT,
        showline=True, mirror='allticks', linecolor=FRAME, linewidth=1.5,
        ticks='inside', ticklen=5, tickcolor=TICKC, tickwidth=1,
        minor=dict(ticks='inside', ticklen=3, tickcolor=TICKC, tickmode='array',
                   tickvals=spec['minor']),
        showgrid=False, zeroline=False, ticklabelstandoff=standoff,
    )


# (index, box px (x0, y0, x1, y1), x spec, y spec, show x labels)
PANELS = [
    (1, (63, 20, 300, 168), 'wl', 'gain', True),
    (2, (361, 20, 598, 168), 'wl', 'nf', True),
    (3, (63, 215, 300, 363), 'wl', 'gain', True),
    (4, (361, 215, 598, 363), 'wl', 'nf', True),
    (5, (63, 416, 300, 565), 'wl', 'gain', True),
    (6, (361, 416, 598, 564), 'wl', 'nf', True),
    (7, (657, 413, 898, 560), 'out', 'gain', True),
    (8, (63, 607, 300, 756), 'wl', 'gain', True),
    (9, (361, 607, 598, 756), 'wl', 'nf', True),
    (10, (657, 616, 893, 762), 'inx', 'iny', True),
    (11, (63, 838, 302, 988), 'pump', 'pg', False),
    (12, (63, 988, 302, 1135), 'pump', 'pn', True),
    (13, (362, 838, 598, 988), 'pump', 'pg', False),
    (14, (362, 988, 598, 1135), 'pump', 'pn', True),
    (15, (657, 838, 894, 988), 'pump', 'pg', False),
    (16, (657, 988, 894, 1135), 'pump', 'pn', True),
]

layout_axes = {}
for n, (x0, y0, x1, y1), xs, ys, xl in PANELS:
    sfx = '' if n == 1 else str(n)
    ystand = 6 if n in (7, 10) else 0
    layout_axes['xaxis' + sfx] = axis_dict(AX[xs], [fx(x0), fx(x1)], 'y' + sfx, xl, -4)
    layout_axes['yaxis' + sfx] = axis_dict(AX[ys], [fy(y1), fy(y0)], 'x' + sfx, True, ystand)
fig.update_layout(**layout_axes)


def add_core_lines(n, xs_per_core, ys_per_core, width=2.4):
    sfx = '' if n == 1 else str(n)
    for i, c in enumerate(CORES):
        fig.add_trace(go.Scatter(
            x=xs_per_core[i], y=ys_per_core[i], mode='lines',
            xaxis='x' + sfx, yaxis='y' + sfx, showlegend=False, hoverinfo='skip',
            line=dict(color=COLORS[i], width=width,
                      dash='7px,4px' if DASHED[i] else 'solid',
                      shape='spline', smoothing=0.6)))


WLX = [WL] * len(CORES)
add_core_lines(1, WLX, G_100_M15)
add_core_lines(2, WLX, NF_100_M15)
add_core_lines(3, WLX, G_MAX_M15)
add_core_lines(4, WLX, NF_MAX_M15)
add_core_lines(5, WLX, G_MAX_M10)
add_core_lines(6, WLX, NF_MAX_M10)
add_core_lines(7, [[p + g for p, g in zip(OUT_PIN, row)] for row in OUT_GAIN], OUT_GAIN)
add_core_lines(8, WLX, G_MAX_M5)
add_core_lines(9, WLX, NF_MAX_M5)
add_core_lines(10, [IN_PIN] * len(CORES), IN_NF)
PX = [PUMP + [e] for e in PUMP_END]
add_core_lines(11, PX, PG_1530)
add_core_lines(12, PX, PN_1530)
add_core_lines(13, PX, PG_1550)
add_core_lines(14, PX, PN_1550)
add_core_lines(15, PX, PG_1565)
add_core_lines(16, PX, PN_1565)

# boundary lines between stacked pump panels
for n, (x0, y0, x1, y1), xs, ys, xl in PANELS:
    if n in (12, 14, 16):
        fig.add_shape(type='line', xref='paper', yref='paper',
                      x0=fx(x0), x1=fx(x1), y0=fy(y0), y1=fy(y0),
                      line=dict(color='#222222', width=2))

annotations = []


def label(text, x, y, xanchor='left', size=19, angle=0, bg='white'):
    annotations.append(dict(
        text='<b>' + text + '</b>', x=fx(x), y=fy(y), xref='paper', yref='paper',
        xanchor=xanchor, yanchor='middle', showarrow=False, textangle=angle,
        bgcolor=bg, borderpad=0,
        font=dict(family=SERIF, size=size, color='black')))


# panel annotations
label('100 mW pump', 280, 38, 'right')
label('-15 dBm input', 86, 153)
label('100 mW pump', 588, 42, 'right')
label('-15 dBm input', 370, 153)
label('Max. pump', 288, 236, 'right')
label('-15 dBm input', 72, 347)
label('Max. pump', 560, 238, 'right')
label('-15 dBm input', 370, 347)
label('Max. pump', 288, 437, 'right')
label('-10 dBm input', 75, 549)
label('Max. pump', 560, 438, 'right')
label('-10 dBm input', 370, 549)
label('Max. pump', 872, 433, 'right')
label('λ = 1 550 nm', 680, 540)
label('Max. pump', 288, 632, 'right')
label('-5 dBm input', 75, 742)
label('Max. pump', 560, 632, 'right')
label('-5 dBm input', 370, 742)
label('Max. pump', 872, 642, 'right')
label('λ = 1 550 nm', 675, 745)
for cx, lam in ((216, '1 530'), (520, '1 550'), (803, '1 565')):
    label('λ = ' + lam + ' nm', cx, 945, 'center')
    label('-10 dBm input', cx, 967, 'center')

# axis titles
for n, (x0, y0, x1, y1), xs, ys, xl in PANELS:
    ytitle = {'gain': 'Gain (dB)', 'nf': 'NF (dB)', 'iny': 'NF (dB)',
              'pg': 'Gain (dB)', 'pn': 'NF (dB)'}[ys]
    off = 39 if n in (7, 10) else 33
    label(ytitle, x0 - off, (y0 + y1) / 2, 'center', size=17, angle=-90, bg=None)
    if xl:
        xtitle = {'wl': 'Wavelength (nm)', 'out': 'Output power (dBm)',
                  'inx': 'Input power (dBm)', 'pump': 'Pump power (mW)'}[xs]
        label(xtitle, (x0 + x1) / 2, y1 + 29, 'center', size=17, bg=None)

# legend (Core ID)
annotations.append(dict(text='Core ID', x=fx(734), y=fy(32), xref='paper', yref='paper',
                        xanchor='center', yanchor='middle', showarrow=False,
                        font=dict(family=SANS, size=28, color='#333333')))
for i, c in enumerate(CORES):
    col = 0 if c <= 10 else 1
    row = c - 1 if c <= 10 else c - 11
    yy = 80 + 29.2 * row
    lx0, lx1, tx = (638, 700, 716) if col == 0 else (759, 822, 834)
    fig.add_shape(type='line', xref='paper', yref='paper',
                  x0=fx(lx0), x1=fx(lx1), y0=fy(yy), y1=fy(yy),
                  line=dict(color=COLORS[i], width=3,
                            dash='13px,7px' if DASHED[i] else 'solid'))
    annotations.append(dict(text=str(c), x=fx(tx), y=fy(yy + 1), xref='paper', yref='paper',
                            xanchor='left', yanchor='middle', showarrow=False,
                            font=dict(family=SERIF, size=27, color='#222222')))

fig.update_layout(
    width=W, height=H, margin=dict(l=0, r=0, t=0, b=0),
    paper_bgcolor='white', plot_bgcolor='white',
    showlegend=False, annotations=annotations,
)

fig.write_html("out.html", post_script="document.body.style.margin='0';")
